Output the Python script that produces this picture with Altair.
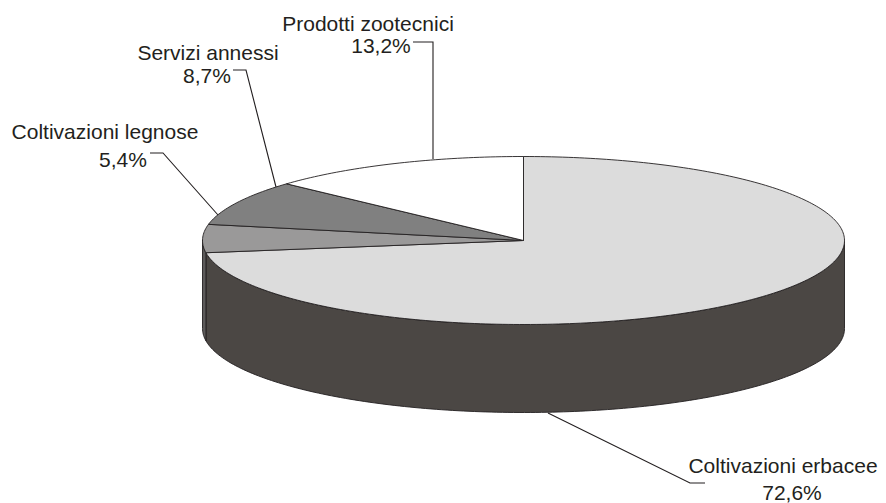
import numpy as np
import pandas as pd
import altair as alt

# ---- data ----
categories = ["Coltivazioni erbacee", "Coltivazioni legnose", "Servizi annessi", "Prodotti zootecnici"]
values = [72.6, 5.4, 8.7, 13.2]

# ---- styles ----
top_colors = ["#dcdcdc", "#9a9999", "#808080", "#ffffff"]
wall_colors = ["#4b4744", "#5c5a5a", "#4a4a4a", "#8c8c8c"]
edge = "#231f20"
text_color = "#231f20"

# ---- layout (pixel space of the page) ----
W, H = 870, 495
CX, CY, A, B, DEPTH = 523.5, 240.5, 321.0, 84.0, 88.0
label_layout = {
    "Coltivazioni erbacee": dict(name=(783, 473), pct=(792, 500),
                                 leader=[(548, 413), (690, 483), (705, 483)]),
    "Coltivazioni legnose": dict(name=(105, 139), pct=(123, 167),
                                 leader=[(150, 153), (163, 153), (218, 215)]),
    "Servizi annessi": dict(name=(208, 60), pct=(207, 83),
                            leader=[(233, 70), (246, 70), (276, 187)]),
    "Prodotti zootecnici": dict(name=(368, 31), pct=(381, 53),
                                leader=[(413, 42), (433, 42), (433, 159)]),
}


def ell(theta_deg, drop=0.0):
    t = np.radians(theta_deg)
    return CX + A * np.sin(t), CY - B * np.cos(t) + drop


def arc(t0, t1):
    n = max(2, int(abs(t1 - t0)) + 2)
    return np.linspace(t0, t1, n)


# slice angles, clockwise from 12 o'clock
total = float(sum(values))
ends = np.cumsum(values) / total * 360.0
starts = np.concatenate([[0.0], ends[:-1]])

top_rows, wall_rows = [], []
for i, (cat, s, e) in enumerate(zip(categories, starts, ends)):
    pid = f"top{i}"
    pts = [(CX, CY)] + [ell(t) for t in arc(s, e)]
    for k, (x, y) in enumerate(pts):
        top_rows.append(dict(poly=pid, x=x, y=y, k=k))
    lo, hi = max(s, 90.0), min(e, 270.0)
    if hi > lo:
        wid = f"wall{i}"
        ts = arc(lo, hi)
        pts = [ell(t) for t in ts] + [ell(t, DEPTH) for t in ts[::-1]]
        for k, (x, y) in enumerate(pts):
            wall_rows.append(dict(poly=wid, x=x, y=y, k=k))

top_df = pd.DataFrame(top_rows)
wall_df = pd.DataFrame(wall_rows)

poly_domain = [f"top{i}" for i in range(4)] + [f"wall{i}" for i in range(4)]
poly_range = top_colors + wall_colors

xs = alt.Scale(domain=[8, 8 + W], nice=False, zero=False)
ys = alt.Scale(domain=[8, 8 + H], nice=False, zero=False, reverse=True)


def polys(df):
    return alt.Chart(df).mark_line(
        interpolate="linear-closed", stroke=edge, strokeWidth=0.9, strokeJoin="round"
    ).encode(
        x=alt.X("x:Q", scale=xs, axis=None),
        y=alt.Y("y:Q", scale=ys, axis=None),
        order="k:Q",
        detail="poly:N",
        fill=alt.Fill("poly:N", scale=alt.Scale(domain=poly_domain, range=poly_range), legend=None),
    )


# labels and leaders
text_rows, leader_rows = [], []
for cat, v in zip(categories, values):
    lay = label_layout[cat]
    pct = f"{v:.1f}".replace(".", ",") + "%"
    text_rows.append(dict(x=lay["name"][0], y=lay["name"][1], t=cat))
    text_rows.append(dict(x=lay["pct"][0], y=lay["pct"][1], t=pct))
    for k, (x, y) in enumerate(lay["leader"]):
        leader_rows.append(dict(cat=cat, x=x, y=y, k=k))

text_df = pd.DataFrame(text_rows)
leader_df = pd.DataFrame(leader_rows)

leaders = alt.Chart(leader_df).mark_line(stroke=edge, strokeWidth=1.1).encode(
    x=alt.X("x:Q", scale=xs, axis=None),
    y=alt.Y("y:Q", scale=ys, axis=None),
    order="k:Q",
    detail="cat:N",
)

texts = alt.Chart(text_df).mark_text(
    align="center", baseline="alphabetic", font="Liberation Sans", fontSize=21, color=text_color
).encode(
    x=alt.X("x:Q", scale=xs, axis=None),
    y=alt.Y("y:Q", scale=ys, axis=None),
    text="t:N",
)

chart = alt.layer(polys(wall_df), polys(top_df), leaders, texts).properties(
    width=W, height=H, padding=0, autosize=alt.AutoSizeParams(type="none"),
    background="white",
).configure_view(stroke=None)

chart.save("out.html", embed_options={"renderer": "svg", "actions": False})
